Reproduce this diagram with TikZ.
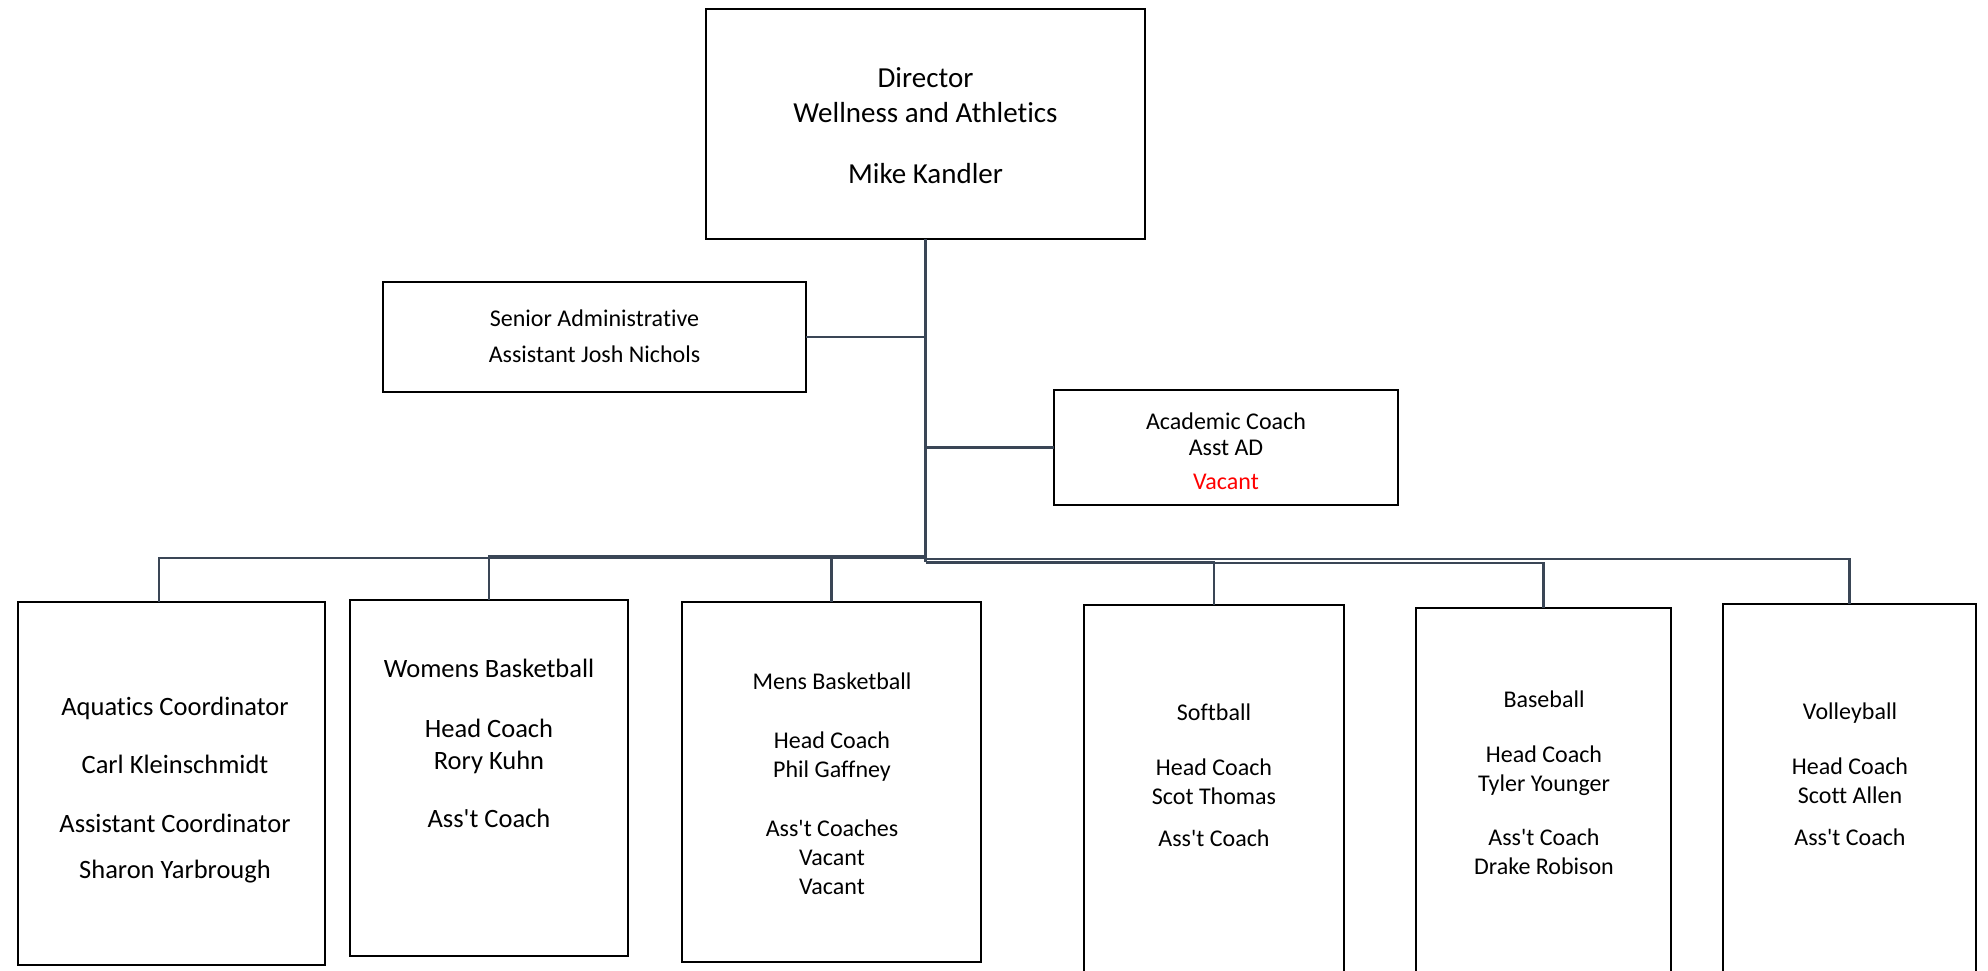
\documentclass[tikz,border=0pt]{standalone}
\usepackage{fontspec}
\setmainfont{Carlito}[Ligatures={NoCommon}]
\definecolor{conn}{HTML}{3A4656}
\newcommand{\ap}{\textquotesingle}
\begin{document}
\begin{tikzpicture}[x=1pt,y=-1pt,
  box/.style={draw=black,line width=2.6pt,inner sep=0pt,outer sep=0pt},
  txt/.style={align=center,inner sep=0pt},
  fs/.style={font=\fontsize{24}{29}\selectfont},
  fl/.style={font=\fontsize{26.5}{32}\selectfont},
  fd/.style={font=\fontsize{29}{35}\selectfont},
  wire/.style={draw=conn,line width=2.6pt}]
\useasboundingbox[fill=white] (0,0) rectangle (1988,970);
% boxes
\node[box,minimum width=439pt,minimum height=230pt] (dir) at (925.5,124) {};
\node[box,minimum width=423pt,minimum height=110pt] (sen) at (594.5,337) {};
\node[box,minimum width=344pt,minimum height=115pt] (aca) at (1226,447.5) {};
\node[box,minimum width=307pt,minimum height=363pt] (aqu) at (171.5,783.5) {};
\node[box,minimum width=278pt,minimum height=356pt] (wom) at (489,778) {};
\node[box,minimum width=299pt,minimum height=360pt] (men) at (831.5,782) {};
\node[box,minimum width=260pt,minimum height=375pt] (sof) at (1214,792.5) {};
\node[box,minimum width=255pt,minimum height=372pt] (bas) at (1543.5,794) {};
\node[box,minimum width=253pt,minimum height=376pt] (vol) at (1849.5,792) {};
% texts
\node[txt,fd] (tdir) at (925.5,126) {Director\\Wellness and Athletics\\[26pt]Mike Kandler};
\node[txt,fs] (tsen) at (594.5,336) {Senior Administrative\\[7pt]Assistant Josh Nichols};
\node[txt,fs] (taca) at (1226,451) {Academic Coach\\[-3pt]Asst AD\\[5pt]\textcolor[HTML]{FF0000}{Vacant}};
\node[txt,fl] (taqu) at (175,790) {Aquatics Coordinator\\[26pt]Carl Kleinschmidt\\[27pt]Assistant Coordinator\\[14pt]Sharon Yarbrough};
\node[txt,fl] (twom) at (489,743) {Womens Basketball\\[28pt]Head Coach\\Rory Kuhn\\[26pt]Ass\ap t Coach};
\node[txt,fs] (tmen) at (832,783.5) {Mens Basketball\\[30pt]Head Coach\\Phil Gaffney\\[30pt]Ass\ap t Coaches\\Vacant\\Vacant};
\node[txt,fs] (tsof) at (1214,775) {Softball\\[26pt]Head Coach\\Scot Thomas\\[13pt]Ass\ap t Coach};
\node[txt,fs] (tbas) at (1544,782.5) {Baseball\\[26pt]Head Coach\\Tyler Younger\\[25pt]Ass\ap t Coach\\Drake Robison};
\node[txt,fs] (tvol) at (1850,774) {Volleyball\\[26pt]Head Coach\\Scott Allen\\[13pt]Ass\ap t Coach};
% junctions
\coordinate (jend) at (925.5,562);
\coordinate (jl) at (925.5,558);
\coordinate (jw) at (925.5,556);
\coordinate (jm) at (925.5,557);
\coordinate (js) at (925.5,562);
\coordinate (jb) at (925.5,563);
\coordinate (jv) at (925.5,559);
% connectors
\draw[wire] (dir.south) -- (jend);
\draw[wire] (sen.east) -- (sen.east -| dir.south);
\draw[wire] (aca.west) -- (aca.west -| dir.south);
\draw[wire] (jl) -| ([xshift=-12.5pt]aqu.north);
\draw[wire] (jw) -| (wom.north);
\draw[wire] (jm) -| (men.north);
\draw[wire] (js) -| (sof.north);
\draw[wire] (jb) -| (bas.north);
\draw[wire] (jv) -| (vol.north);
\end{tikzpicture}
\end{document}
